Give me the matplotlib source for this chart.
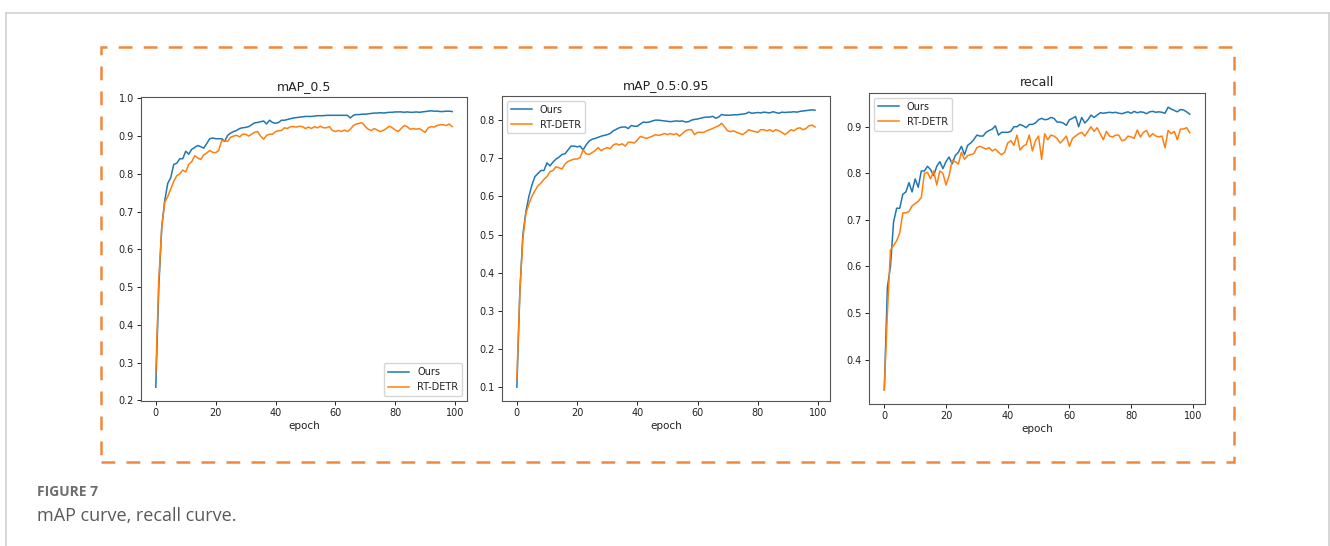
import matplotlib.pyplot as plt
from matplotlib.lines import Line2D
from matplotlib.patches import Rectangle

epochs = list(range(100))

map50_ours = [
    0.235, 0.50, 0.66, 0.73, 0.775, 0.79, 0.825, 0.828, 0.84, 0.84,
    0.86, 0.852, 0.865, 0.87, 0.875, 0.872, 0.868, 0.88, 0.893, 0.895,
    0.893, 0.893, 0.893, 0.886, 0.902, 0.908, 0.912, 0.915, 0.92, 0.922,
    0.923, 0.925, 0.93, 0.935, 0.936, 0.938, 0.94, 0.932, 0.942, 0.936,
    0.934, 0.936, 0.942, 0.942, 0.944, 0.946, 0.948, 0.949, 0.95, 0.951,
    0.952, 0.952, 0.952, 0.953, 0.954, 0.954, 0.954, 0.955, 0.955, 0.955,
    0.955, 0.955, 0.955, 0.955, 0.955, 0.948, 0.955, 0.957, 0.957, 0.958,
    0.958, 0.959, 0.96, 0.961, 0.961, 0.962, 0.961, 0.962, 0.963, 0.963,
    0.964, 0.964, 0.964, 0.963, 0.964, 0.963, 0.963, 0.964, 0.963, 0.964,
    0.965, 0.966, 0.967, 0.966, 0.966, 0.965, 0.965, 0.966, 0.966, 0.965,
]
map50_rtdetr = [
    0.27, 0.52, 0.66, 0.725, 0.74, 0.76, 0.78, 0.795, 0.80, 0.81,
    0.805, 0.825, 0.832, 0.848, 0.842, 0.838, 0.85, 0.855, 0.862, 0.857,
    0.856, 0.862, 0.888, 0.887, 0.886, 0.897, 0.90, 0.902, 0.898, 0.905,
    0.905, 0.90, 0.905, 0.91, 0.912, 0.90, 0.892, 0.902, 0.905, 0.905,
    0.912, 0.914, 0.915, 0.922, 0.92, 0.925, 0.925, 0.924, 0.926, 0.925,
    0.92, 0.924, 0.92, 0.925, 0.922, 0.926, 0.922, 0.922, 0.925, 0.915,
    0.912, 0.915, 0.912, 0.916, 0.912, 0.918, 0.928, 0.932, 0.934, 0.935,
    0.925, 0.918, 0.915, 0.92, 0.916, 0.912, 0.915, 0.92, 0.926, 0.922,
    0.916, 0.912, 0.92, 0.928, 0.925, 0.918, 0.92, 0.918, 0.92, 0.915,
    0.91, 0.922, 0.925, 0.924, 0.928, 0.93, 0.93, 0.928, 0.932, 0.925,
]

map5095_ours = [
    0.10, 0.35, 0.50, 0.56, 0.60, 0.63, 0.652, 0.66, 0.668, 0.668,
    0.688, 0.68, 0.69, 0.698, 0.703, 0.71, 0.712, 0.722, 0.732, 0.732,
    0.73, 0.732, 0.722, 0.735, 0.745, 0.75, 0.752, 0.755, 0.758, 0.76,
    0.762, 0.765, 0.772, 0.776, 0.78, 0.782, 0.782, 0.778, 0.786, 0.784,
    0.784, 0.79, 0.795, 0.794, 0.795, 0.798, 0.80, 0.80, 0.799, 0.798,
    0.797, 0.796, 0.797, 0.798, 0.797, 0.798, 0.795, 0.796, 0.80, 0.802,
    0.803, 0.805, 0.807, 0.808, 0.808, 0.81, 0.805, 0.808, 0.815, 0.813,
    0.813, 0.813, 0.814, 0.814, 0.815, 0.816, 0.817, 0.821, 0.818, 0.819,
    0.82, 0.819, 0.821, 0.82, 0.819, 0.822, 0.82, 0.818, 0.821, 0.82,
    0.821, 0.821, 0.822, 0.821, 0.823, 0.824, 0.825, 0.826, 0.827, 0.826,
]
map5095_rtdetr = [
    0.12, 0.35, 0.49, 0.555, 0.58, 0.60, 0.615, 0.628, 0.635, 0.645,
    0.652, 0.665, 0.668, 0.678, 0.675, 0.672, 0.685, 0.692, 0.695, 0.698,
    0.698, 0.702, 0.722, 0.712, 0.71, 0.715, 0.72, 0.728, 0.72, 0.725,
    0.728, 0.725, 0.735, 0.738, 0.735, 0.738, 0.732, 0.742, 0.742, 0.74,
    0.748, 0.757, 0.755, 0.752, 0.755, 0.758, 0.762, 0.76, 0.762, 0.765,
    0.762, 0.765, 0.762, 0.765, 0.758, 0.765, 0.772, 0.775, 0.775, 0.762,
    0.768, 0.768, 0.768, 0.772, 0.775, 0.778, 0.782, 0.785, 0.792, 0.782,
    0.772, 0.77, 0.772, 0.768, 0.765, 0.762, 0.768, 0.775, 0.772, 0.77,
    0.768, 0.775, 0.775, 0.772, 0.775, 0.77, 0.775, 0.772, 0.768, 0.762,
    0.768, 0.775, 0.772, 0.778, 0.78, 0.775, 0.778, 0.785, 0.787, 0.782,
]

recall_ours = [
    0.335, 0.555, 0.60, 0.695, 0.725, 0.725, 0.755, 0.76, 0.78, 0.76,
    0.788, 0.77, 0.805, 0.805, 0.815, 0.808, 0.795, 0.815, 0.825, 0.81,
    0.825, 0.835, 0.82, 0.838, 0.845, 0.858, 0.84, 0.86, 0.865, 0.872,
    0.882, 0.88, 0.88, 0.888, 0.892, 0.895, 0.902, 0.882, 0.888, 0.888,
    0.888, 0.89, 0.90, 0.90, 0.905, 0.902, 0.898, 0.905, 0.905, 0.908,
    0.915, 0.918, 0.915, 0.916, 0.92, 0.918, 0.91, 0.91, 0.908, 0.903,
    0.915, 0.918, 0.922, 0.90, 0.92, 0.908, 0.915, 0.925, 0.92, 0.925,
    0.93, 0.929, 0.93, 0.931, 0.93, 0.931, 0.929, 0.928, 0.93, 0.932,
    0.929, 0.933, 0.93, 0.932, 0.931, 0.928, 0.932, 0.933, 0.931, 0.932,
    0.931, 0.929, 0.942, 0.938, 0.935, 0.932, 0.937, 0.936, 0.932, 0.927,
]
recall_rtdetr = [
    0.335, 0.50, 0.635, 0.645, 0.655, 0.672, 0.715, 0.715, 0.718, 0.73,
    0.735, 0.74, 0.748, 0.80, 0.802, 0.788, 0.805, 0.775, 0.805, 0.80,
    0.775, 0.795, 0.828, 0.825, 0.82, 0.845, 0.83, 0.838, 0.84, 0.842,
    0.855, 0.858, 0.855, 0.852, 0.855, 0.848, 0.852, 0.845, 0.84, 0.845,
    0.865, 0.87, 0.86, 0.882, 0.85, 0.858, 0.862, 0.882, 0.848, 0.87,
    0.88, 0.83, 0.885, 0.872, 0.882, 0.88, 0.875, 0.865, 0.872, 0.88,
    0.858, 0.875, 0.88, 0.885, 0.888, 0.88, 0.89, 0.90, 0.89, 0.898,
    0.885, 0.872, 0.89, 0.88, 0.878, 0.882, 0.882, 0.87, 0.872, 0.88,
    0.878, 0.875, 0.893, 0.878, 0.888, 0.892, 0.878, 0.885, 0.88, 0.878,
    0.88, 0.855, 0.892, 0.885, 0.89, 0.872, 0.895, 0.895, 0.898, 0.887,
]

titles = ['mAP_0.5', 'mAP_0.5:0.95', 'recall']
legend_locs = ['lower right', 'upper left', 'upper left']
series = [(map50_ours, map50_rtdetr), (map5095_ours, map5095_rtdetr), (recall_ours, recall_rtdetr)]
boxes = [
    [0.1060, 0.2656, 0.2451, 0.5568],
    [0.3774, 0.2656, 0.2466, 0.5586],
    [0.6534, 0.2600, 0.2526, 0.5696],
]

fig = plt.figure(figsize=(13.3, 5.46), dpi=100)
txt = '#222222'

for (ours, rt), title, loc, box in zip(series, titles, legend_locs, boxes):
    ax = fig.add_axes(box)
    ax.plot(epochs, ours, color='#1f77b4', lw=1.1, label='Ours')
    ax.plot(epochs, rt, color='#ff7f0e', lw=1.1, label='RT-DETR')
    ax.set_title(title, fontsize=9, color=txt, pad=5)
    ax.set_xlabel('epoch', fontsize=7.5, color=txt, labelpad=2)
    ax.set_xticks([0, 20, 40, 60, 80, 100])
    ax.tick_params(labelsize=7, colors=txt, length=3, width=0.7, pad=2)
    for s in ax.spines.values():
        s.set_color('#555555')
        s.set_linewidth(0.8)
    ax.legend(loc=loc, fontsize=7, handlelength=2.2, labelcolor=txt)

# page frame (grey) and dashed orange box
fig.add_artist(Line2D([6 / 1330, 6 / 1330], [0, 1 - 13 / 546], transform=fig.transFigure,
                      color='#d0d0d0', lw=1.2))
fig.add_artist(Line2D([6 / 1330, 1329 / 1330], [1 - 13 / 546, 1 - 13 / 546], transform=fig.transFigure,
                      color='#d0d0d0', lw=1.2))
fig.add_artist(Line2D([1328.5 / 1330, 1328.5 / 1330], [0, 1 - 13 / 546], transform=fig.transFigure,
                      color='#d0d0d0', lw=1.2))
fig.add_artist(Rectangle((101 / 1330, 1 - 462 / 546), 1133 / 1330, 415 / 546,
                         transform=fig.transFigure, fill=False, edgecolor='#f0883e',
                         lw=1.8, linestyle=(0, (5.5, 4.5))))

fig.text(37 / 1330, 1 - 492 / 546, 'FIGURE 7', fontsize=10, fontweight='bold', color='#6e6e6e',
         family='Open Sans', va='center')
fig.text(37 / 1330, 1 - 516 / 546, 'mAP curve, recall curve.', fontsize=13, color='#5a5a5a',
         family='Open Sans', va='center')

fig.savefig('out.png', dpi=100)
